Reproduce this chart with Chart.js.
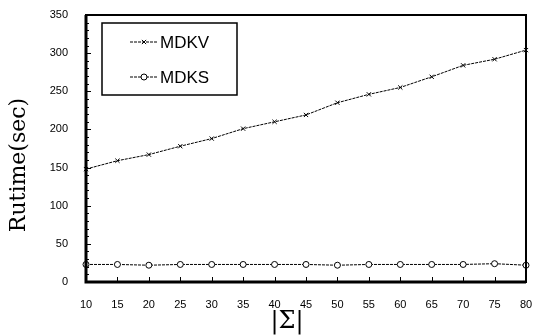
<!DOCTYPE html>
<html lang="en">
<head>
  <meta charset="UTF-8" />
  <title>Runtime vs alphabet size</title>
  <script src="https://cdn.jsdelivr.net/npm/chart.js@4.4.1/dist/chart.umd.min.js"></script>
  <style>
    html, body { margin: 0; padding: 0; background: #fff; }
    #wrap { width: 536px; height: 336px; }
  </style>
</head>
<body>
<div id="wrap"><canvas id="chart" width="536" height="336"></canvas></div>
<script>
// data
const sigmaSizes = [10, 15, 20, 25, 30, 35, 40, 45, 50, 55, 60, 65, 70, 75, 80];
const mdkvTimes = [148, 159, 167, 178, 188, 201, 210, 219, 235, 246, 255, 269, 284, 292, 304];
const mdksTimes = [23, 23, 22, 23, 23, 23, 23, 23, 22, 23, 23, 23, 23, 24, 22];
const seriesNames = ['MDKV', 'MDKS'];
const yTicks = [0, 50, 100, 150, 200, 250, 300, 350];
const xTitle = '|Σ|';
const yTitle = 'Rutime(sec)';

const toPts = vals => sigmaSizes.map((s, i) => ({ x: s, y: vals[i] }));

// frame, inward tick marks, axis titles and the boxed legend
const framePlugin = {
  id: 'frame',
  afterDraw(chart) {
    const { ctx, chartArea: a, scales } = chart;
    ctx.save();
    ctx.strokeStyle = '#000';
    ctx.lineWidth = 1;
    // minor + major ticks on y
    for (let v = 0; v <= 350; v += 10) {
      const y = Math.round(scales.y.getPixelForValue(v)) + 0.5;
      const len = v % 50 === 0 ? 5 : 3;
      ctx.beginPath(); ctx.moveTo(a.left, y); ctx.lineTo(a.left + len, y); ctx.stroke();
    }
    sigmaSizes.forEach(s => {
      const x = Math.round(scales.x.getPixelForValue(s)) + 0.5;
      ctx.beginPath(); ctx.moveTo(x, a.bottom); ctx.lineTo(x, a.bottom - 5); ctx.stroke();
    });
    ctx.lineWidth = 2;
    ctx.strokeRect(a.left, a.top, a.right - a.left, a.bottom - a.top);
    ctx.lineWidth = 3;
    ctx.beginPath();
    ctx.moveTo(a.left, a.top); ctx.lineTo(a.left, a.bottom); ctx.lineTo(a.right, a.bottom);
    ctx.stroke();

    // axis titles
    ctx.fillStyle = '#000';
    ctx.textAlign = 'center';
    ctx.textBaseline = 'middle';
    ctx.font = '24px "DejaVu Serif", serif';
    ctx.fillText(xTitle, 287, 322);
    ctx.save();
    ctx.translate(19, 165);
    ctx.rotate(-Math.PI / 2);
    ctx.font = '22px "DejaVu Serif", serif';
    ctx.fillText(yTitle, 0, 0);
    ctx.restore();

    // legend box
    const bx = a.left + 16, by = a.top + 8, bw = 135, bh = 72;
    ctx.textAlign = 'left';
    ctx.lineWidth = 1.5;
    ctx.fillStyle = '#fff';
    ctx.fillRect(bx, by, bw, bh);
    ctx.strokeRect(bx, by, bw, bh);
    chart.data.datasets.forEach((ds, i) => {
      const cy = by + 19 + i * 35;
      ctx.lineWidth = 1;
      ctx.setLineDash(ds.borderDash);
      ctx.beginPath(); ctx.moveTo(bx + 28, cy); ctx.lineTo(bx + 55, cy); ctx.stroke();
      ctx.setLineDash([]);
      ctx.fillStyle = '#fff';
      Chart.helpers.drawPoint(ctx, {
        pointStyle: ds.pointStyle, radius: 3, borderWidth: 1
      }, bx + 42, cy);
      ctx.fillStyle = '#000';
      ctx.font = '17px "Liberation Sans", Arial, sans-serif';
      ctx.fillText(ds.label, bx + 58, cy + 1);
    });
    ctx.restore();
  }
};

new Chart(document.getElementById('chart'), {
  type: 'line',
  data: {
    datasets: [
      {
        label: seriesNames[0],
        data: toPts(mdkvTimes),
        borderColor: '#000',
        backgroundColor: '#fff',
        borderWidth: 1,
        borderDash: [3, 1],
        pointStyle: 'crossRot',
        pointRadius: 3,
        pointBorderWidth: 1,
        pointBorderColor: '#000'
      },
      {
        label: seriesNames[1],
        data: toPts(mdksTimes),
        borderColor: '#000',
        backgroundColor: '#fff',
        borderWidth: 1,
        borderDash: [3, 1],
        pointStyle: 'circle',
        pointRadius: 3,
        pointBorderWidth: 1,
        pointBorderColor: '#000',
        pointBackgroundColor: '#fff'
      }
    ]
  },
  options: {
    responsive: false,
    animation: false,
    clip: false,
    layout: { padding: { top: 15, right: 10, left: 0, bottom: 0 } },
    plugins: { legend: { display: false }, tooltip: { enabled: false } },
    scales: {
      x: {
        type: 'linear',
        min: 10, max: 80,
        afterBuildTicks: s => { s.ticks = sigmaSizes.map(v => ({ value: v })); },
        afterFit: s => { s.height = 54; s.paddingLeft = 0; s.paddingRight = 0; },
        grid: { display: false },
        border: { display: false },
        ticks: { color: '#000', padding: 8, maxRotation: 0, font: { size: 11, family: '"Liberation Sans", Arial' } }
      },
      y: {
        min: 0, max: 350,
        afterBuildTicks: s => { s.ticks = yTicks.map(v => ({ value: v })); },
        afterFit: s => { s.width = 86; s.paddingTop = 0; s.paddingBottom = 0; },
        grid: { display: false },
        border: { display: false },
        ticks: { color: '#000', padding: 10, font: { size: 11, family: '"Liberation Sans", Arial' } }
      }
    }
  },
  plugins: [framePlugin]
});
</script>
</body>
</html>
